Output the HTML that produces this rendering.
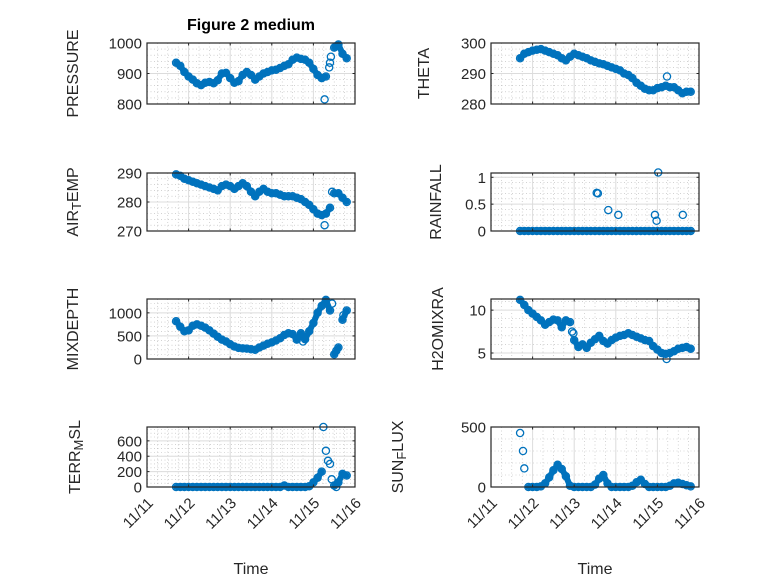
<!DOCTYPE html>
<html><head><meta charset="utf-8"><style>
html,body{margin:0;padding:0;background:#fff;}
svg{display:block;font-family:"Liberation Sans",sans-serif;}
</style></head><body>
<svg id="fig" width="778" height="583" viewBox="0 0 778 583" xmlns="http://www.w3.org/2000/svg">
<rect width="778" height="583" fill="#fff"/>
<text x="251" y="30" text-anchor="middle" font-size="16" font-weight="bold" fill="#000">Figure 2 medium</text>
</svg>
<script>
const T = [0.7,0.8,0.9,1.0,1.1,1.2,1.3,1.4,1.5,1.6,1.7,1.8,1.9,2.0,2.1,2.2,2.3,2.4,2.5,2.6,2.7,2.8,2.9,3.0,3.1,3.2,3.3,3.4,3.5,3.6,3.7,3.8,3.9,4.0,4.1,4.2,4.3,4.4,4.5,4.6,4.7,4.8];
const pressure = [935,925,905,890,880,868,862,870,872,868,878,900,902,885,870,875,895,905,895,880,890,900,905,910,912,918,925,930,945,952,948,945,935,915,895,885,890,935,985,995,965,950];
const pressureExtraT = [4.27,4.38,4.42,4.55];
const pressureExtraV = [815,920,955,990];
const airTemp = [289.5,289,288,287.5,287,286.5,286,285.5,285,284.5,284,285.5,286,285.5,284.5,285.5,286.5,285.5,283.5,282,283.5,284.5,283.5,283,283,282.5,282,282,282,281.5,281,280,279,277.5,276,275.5,276,278,283,283,281.5,280];
const airTempExtraT = [4.27,4.45];
const airTempExtraV = [272,283.5];
const mixDepth = [820,700,600,620,720,750,720,680,620,550,480,420,380,320,270,240,230,225,210,200,250,290,330,360,400,450,520,560,540,420,560,430,600,780,1000,1150,1280,1050,100,250,850,1050];
const mixDepthExtraT = [4.45,4.72,4.55,3.75];
const mixDepthExtraV = [1200,950,180,380];
const terrMsl = [0,0,0,0,0,0,0,0,0,0,0,0,0,0,0,0,0,0,0,0,0,0,0,0,0,0,20,0,0,0,0,0,10,60,120,200,470,300,20,60,170,150];
const terrMslExtraT = [4.24,4.35,4.44,4.55];
const terrMslExtraV = [780,340,100,0];
const theta = [295,296.5,297,297.5,297.8,298,297.5,297,296.5,296,295,294.3,295.5,296.5,296,295.5,295,294.3,293.8,293.3,293,292.5,292,291.5,291,290,289.5,288.5,287,286,285,284.5,284.5,285.2,285.5,286,285.5,285.5,284.5,283.5,284,284];
const thetaExtraT = [4.23];
const thetaExtraV = [289];
const rainfall = [0,0,0,0,0,0,0,0,0,0,0,0,0,0,0,0,0,0,0,0,0,0,0,0,0,0,0,0,0,0,0,0,0,0,0,0,0,0,0,0,0,0];
const rainfallExtraT = [2.54,2.57,2.82,3.06,3.94,3.98,4.02,4.61];
const rainfallExtraV = [0.71,0.7,0.39,0.3,0.3,0.19,1.09,0.3];
const h2oMix = [11.2,10.6,10,9.6,9.2,8.8,8.3,8.6,8.9,8.8,8,8.8,8.6,6.5,5.7,6,5.6,6.2,6.6,7,6.4,6.1,6.5,6.8,7,7.1,7.3,7.1,6.9,6.7,6.5,6.4,5.8,5.4,5,4.9,5,5.2,5.5,5.6,5.7,5.5];
const h2oMixExtraT = [4.22,1.95,1.98];
const h2oMixExtraV = [4.3,7.5,7.3];
const sunFlux = [450,155,0,0,0,5,30,80,140,185,150,90,10,0,0,0,0,0,20,70,100,30,0,0,0,0,0,10,40,60,25,0,0,0,0,0,10,30,35,25,15,5];
const sunFluxExtraT = [0.77];
const sunFluxExtraV = [300];
const xTickLabels = ["11/11","11/12","11/13","11/14","11/15","11/16"];
const xTickValues = [0,1,2,3,4,5];
const pressureTicks = [800,900,1000];
const airTempTicks = [270,280,290];
const mixDepthTicks = [0,500,1000];
const terrMslTicks = [0,200,400,600];
const thetaTicks = [280,290,300];
const rainfallTicks = [0,0.5,1];
const rainfallTickLabels = ["0","0.5","1"];
const h2oMixTicks = [5,10];
const sunFluxTicks = [0,500];

const NS = "http://www.w3.org/2000/svg";
const svg = document.getElementById('fig');
function mk(tag, attrs, parent){const e=document.createElementNS(NS,tag);for(const k in attrs)e.setAttribute(k,attrs[k]);(parent||svg).appendChild(e);return e;}

const rows=[[43,104],[173,231],[299,359],[427,487]];
const cols=[[147,355],[491,699]];
const panels=[
 {name:'pressure',r:0,c:0,ylim:[800,1000],v:pressure,et:pressureExtraT,ev:pressureExtraV,ticks:pressureTicks,label:['PRESSURE'],lx:78,minor:5},
 {name:'theta',r:0,c:1,ylim:[280,300],v:theta,et:thetaExtraT,ev:thetaExtraV,ticks:thetaTicks,label:['THETA'],lx:429,minor:5},
 {name:'air-temp',r:1,c:0,ylim:[270,290],v:airTemp,et:airTempExtraT,ev:airTempExtraV,ticks:airTempTicks,label:['AIR','T','EMP'],lx:78,minor:5},
 {name:'rainfall',r:1,c:1,ylim:[0,1.08],v:rainfall,et:rainfallExtraT,ev:rainfallExtraV,ticks:rainfallTicks,tl:rainfallTickLabels,label:['RAINFALL'],lx:441,minor:5},
 {name:'mixdepth',r:2,c:0,ylim:[0,1300],v:mixDepth,et:mixDepthExtraT,ev:mixDepthExtraV,ticks:mixDepthTicks,label:['MIXDEPTH'],lx:78,minor:5},
 {name:'h2omixra',r:2,c:1,ylim:[4.3,11.3],v:h2oMix,et:h2oMixExtraT,ev:h2oMixExtraV,ticks:h2oMixTicks,label:['H2OMIXRA'],lx:443,minor:5},
 {name:'terr-msl',r:3,c:0,ylim:[0,780],v:terrMsl,et:terrMslExtraT,ev:terrMslExtraV,ticks:terrMslTicks,label:['TERR','M','SL'],lx:80,minor:4},
 {name:'sun-flux',r:3,c:1,ylim:[0,500],v:sunFlux,et:sunFluxExtraT,ev:sunFluxExtraV,ticks:sunFluxTicks,label:['SUN','F','LUX'],lx:403,minor:5}
];

panels.forEach(p=>{
  const [x0,x1]=cols[p.c],[y0,y1]=rows[p.r];
  const sx=t=>x0+(t-0)/(5-0)*(x1-x0);
  const sy=v=>y1-(v-p.ylim[0])/(p.ylim[1]-p.ylim[0])*(y1-y0);
  const g=mk('g',{});
  
  
  mk('rect',{x:x0,y:y0,width:x1-x0,height:y1-y0,fill:'#fff'},g);
  for(let d=0;d<5;d++)for(let k=1;k<4;k++){const x=sx(d+k/4);mk('line',{x1:x,x2:x,y1:y0,y2:y1,stroke:'#b8b8b8','stroke-width':0.6,'stroke-dasharray':'1 2.5'},g);}
  const step=p.ticks.length>1?p.ticks[1]-p.ticks[0]:1;
  const ms=step/p.minor;
  for(let v=Math.ceil(p.ylim[0]/ms)*ms;v<=p.ylim[1]+1e-9;v+=ms){const y=sy(v);if(y<y0-0.1||y>y1+0.1)continue;mk('line',{x1:x0,x2:x1,y1:y,y2:y,stroke:'#b8b8b8','stroke-width':0.6,'stroke-dasharray':'1 2.5'},g);}
  xTickValues.forEach(t=>{const x=sx(t);mk('line',{x1:x,x2:x,y1:y0,y2:y1,stroke:'#dcdcdc','stroke-width':1},g);});
  p.ticks.forEach(v=>{const y=sy(v);mk('line',{x1:x0,x2:x1,y1:y,y2:y,stroke:'#dcdcdc','stroke-width':1},g);});
  // dense band behind markers
  const band=mk('g',{stroke:'#0072BD','stroke-width':6,'stroke-linecap':'round',fill:'none'},g);
  
  
  for(let i=0;i<T.length-1;i++){
    const xa=sx(T[i]),ya=sy(p.v[i]),xb=sx(T[i+1]),yb=sy(p.v[i+1]);
    if(Math.abs(yb-ya)<12) mk('line',{x1:xa.toFixed(1),y1:ya.toFixed(1),x2:xb.toFixed(1),y2:yb.toFixed(1)},band);
  }
  const sg=mk('g',{fill:'none',stroke:'#0072BD','stroke-width':1.3},g);
  
  
  const pts=T.map((t,i)=>[t,p.v[i]]).concat(p.et.map((t,i)=>[t,p.ev[i]]));
  pts.forEach(([t,v])=>{
    const c=mk('circle',{cx:sx(t).toFixed(1),cy:sy(v).toFixed(1),r:3.6},sg);
    
    
  });
  mk('rect',{x:x0,y:y0,width:x1-x0,height:y1-y0,fill:'none',stroke:'#262626','stroke-width':1.2},g);
  xTickValues.forEach((t,i)=>{const x=sx(t);mk('line',{x1:x,x2:x,y1:y1,y2:y1-2.5,stroke:'#262626'},g);mk('line',{x1:x,x2:x,y1:y0,y2:y0+2.5,stroke:'#262626'},g);
    if(p.r===3){const tx=mk('text',{transform:`translate(${x+7},${y1+17}) rotate(-45)`,'text-anchor':'end','font-size':15,fill:'#262626'},g);tx.textContent=xTickLabels[i];
      
      }
  });
  p.ticks.forEach((v,i)=>{const y=sy(v);mk('line',{x1:x0,x2:x0+2.5,y1:y,y2:y,stroke:'#262626'},g);mk('line',{x1:x1,x2:x1-2.5,y1:y,y2:y,stroke:'#262626'},g);
    const tx=mk('text',{x:x0-5,y:y+5.5,'text-anchor':'end','font-size':15,fill:'#262626'},g);tx.textContent=p.tl?p.tl[i]:String(v);
    
    
  });
  const yl=mk('text',{transform:`translate(${p.lx},${(y0+y1)/2}) rotate(-90)`,'text-anchor':'middle','font-size':16,fill:'#262626'},g);
  
  
  p.label.forEach((s,i)=>{const ts=mk('tspan',{},yl);ts.textContent=s;if(i===1){ts.setAttribute('baseline-shift','-25%');ts.setAttribute('font-size','13');}});
  if(p.r===3){const xl=mk('text',{x:(x0+x1)/2,y:574,'text-anchor':'middle','font-size':16,fill:'#262626'},g);xl.textContent='Time';
    
    }
});
</script>
</body></html>
